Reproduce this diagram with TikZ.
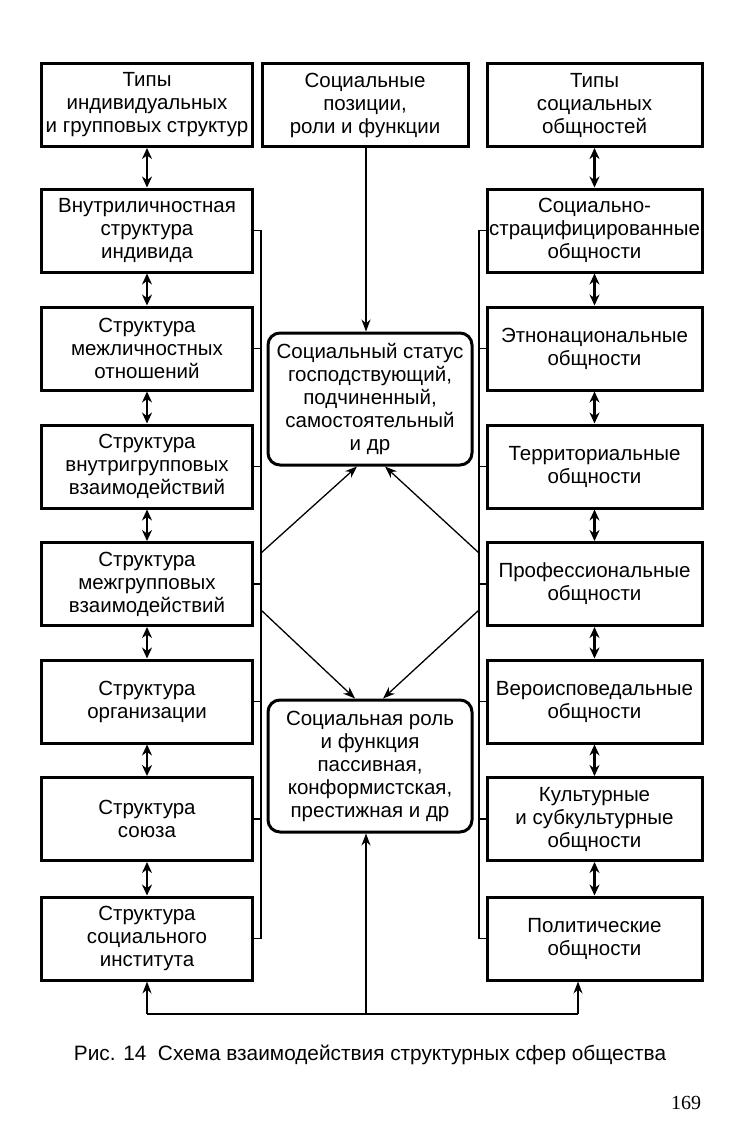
\documentclass[tikz,border=0pt]{standalone}
\usepackage{fontspec}
\setmainfont{Liberation Sans}
\newfontfamily\pagenumfont{Liberation Serif}
\usetikzlibrary{arrows.meta}
\begin{document}
\begin{tikzpicture}[x=1bp,y=-1bp,
  boxtext/.style={font=\fontsize{20.5bp}{23bp}\selectfont},
  lbox/.style={boxtext, draw, line width=3bp, minimum width=210bp, minimum height=83bp, align=center, inner sep=0pt},
  rbox/.style={lbox, minimum width=215bp},
  mbox/.style={lbox, minimum width=206bp},
  rbox2/.style={boxtext, draw, line width=3bp, rounded corners=12bp, minimum width=204bp, minimum height=132bp, align=center, inner sep=0pt},
  dbl/.style={line width=2.4bp, {Stealth[length=11bp,width=10bp]}-{Stealth[length=11bp,width=10bp]}},
  conn/.style={line width=1.3bp},
  arr/.style={conn, -{Stealth[length=12bp,width=9bp]}}
]
\useasboundingbox (0,0) rectangle (732,1138);
\fill[white] (0,0) rectangle (732,1138);

% headers
\node[lbox] (L0) at (147,105) {Типы\\индивидуальных\\и групповых структур};
\node[mbox] (M0) at (365,105) {Социальные\\позиции,\\роли и функции};
\node[rbox] (R0) at (594.5,105) {Типы\\социальных\\общностей};

% left column
\node[lbox] (L1) at (147,230.5) {Внутриличностная\\структура\\индивида};
\node[lbox] (L2) at (147,348.5) {Структура\\межличностных\\отношений};
\node[lbox] (L3) at (147,466.5) {Структура\\внутригрупповых\\взаимодействий};
\node[lbox] (L4) at (147,584) {Структура\\межгрупповых\\взаимодействий};
\node[lbox] (L5) at (147,701.5) {Структура\\организации};
\node[lbox] (L6) at (147,819) {Структура\\союза};
\node[lbox] (L7) at (147,938.5) {Структура\\социального\\института};

% right column
\node[rbox] (R1) at (594.5,230.5) {Социально-\\страцифицированные\\общности};
\node[rbox] (R2) at (594.5,348.5) {Этнонациональные\\общности};
\node[rbox] (R3) at (594.5,466.5) {Территориальные\\общности};
\node[rbox] (R4) at (594.5,584) {Профессиональные\\общности};
\node[rbox] (R5) at (594.5,701.5) {Вероисповедальные\\общности};
\node[rbox] (R6) at (594.5,819) {Культурные\\и субкультурные\\общности};
\node[rbox] (R7) at (594.5,938.5) {Политические\\общности};

% centre
\node[rbox2] (S) at (370,399) {Социальный статус\\господствующий,\\подчиненный,\\самостоятельный\\и др};
\node[rbox2] (P) at (370,766) {Социальная роль\\и функция\\пассивная,\\конформистская,\\престижная и др};

% double arrows
\foreach \a/\b in {L0/L1,L1/L2,L2/L3,L3/L4,L4/L5,L5/L6,L6/L7,R0/R1,R1/R2,R2/R3,R3/R4,R4/R5,R5/R6,R6/R7}
  \draw[dbl] (\a.south) -- (\b.north);

% bracket lines
\coordinate (LT) at (261,230.5);
\coordinate (LB) at (261,938.5);
\coordinate (RT) at (479,230.5);
\coordinate (RB) at (479,938.5);
\draw[conn] (L1.east) -- (LT) -- (LB) -- (L7.east);
\draw[conn] (R1.west) -- (RT) -- (RB) -- (R7.west);
\foreach \k in {2,...,6} {
  \draw[conn] (L\k.east) -- (L\k.east -| LT);
  \draw[conn] (R\k.west) -- (R\k.west -| RT);
}

% diagonal arrows
\coordinate (la) at (261,553);
\coordinate (ra) at (479,553);
\coordinate (lb) at (261,610);
\coordinate (rb) at (479,610);
\draw[arr] (la) -- ([xshift=-13bp]S.south);
\draw[arr] (ra) -- ([xshift=15bp]S.south);
\draw[arr] (lb) -- ([xshift=-15bp]P.north);
\draw[arr] (rb) -- ([xshift=13bp]P.north);

% top middle arrow
\draw[arr] ([xshift=1bp]M0.south) -- ([xshift=1bp]M0.south |- S.north);

% bottom connector
\coordinate (bm) at (366,1014);
\coordinate (bl) at (147,1014);
\coordinate (br) at (578,1014);
\draw[conn] (bl) -- (br);
\draw[arr] (bm) -- (bm |- P.south);
\draw[arr] (bl) -- (bl |- L7.south);
\draw[arr] (br) -- (br |- R7.south);

% caption
\node[font=\fontsize{20.8bp}{23bp}\selectfont, inner sep=0pt] (cap) at (370,1055) {Рис. 14\ \ Схема взаимодействия структурных сфер общества};
\node[font=\pagenumfont\fontsize{20bp}{22bp}\selectfont, inner sep=0pt] (pg) at (686,1103) {169};
\end{tikzpicture}
\end{document}
